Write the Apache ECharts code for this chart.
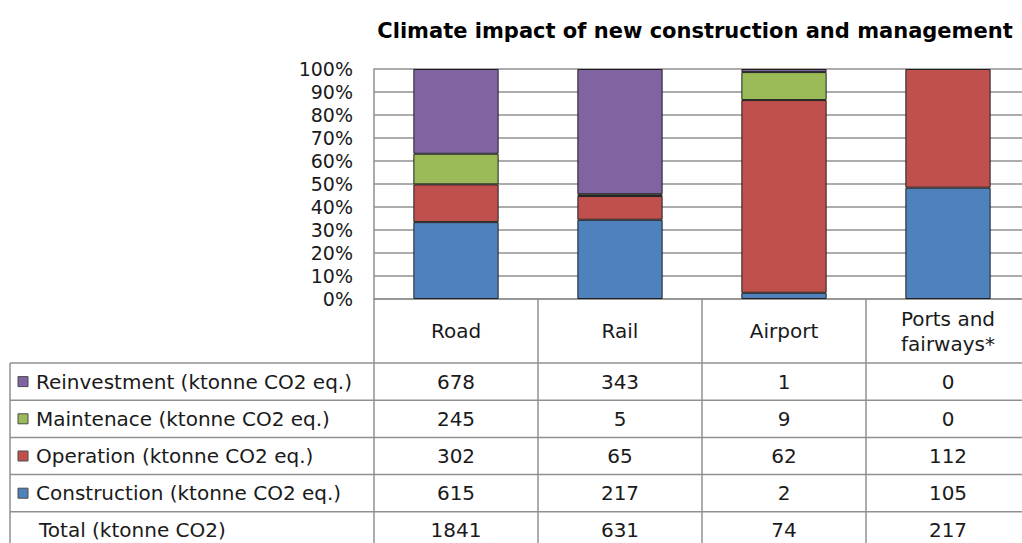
<!DOCTYPE html>
<html>
<head>
<meta charset="utf-8">
<title>Climate impact of new construction and management</title>
<script src="https://cdn.jsdelivr.net/npm/echarts@6/dist/echarts.min.js"></script>
<style>
  html, body { margin: 0; padding: 0; background: #ffffff; }
  #chart { width: 1022px; height: 543px; }
</style>
</head>
<body>
<div id="chart"></div>
<script>
// Infrastructure types (columns)
const categories = ['Road', 'Rail', 'Airport', 'Ports and\nfairways*'];

// Emissions per activity, ktonne CO2 eq.
const reinvestment = [678, 343, 1, 0];
const maintenance  = [245, 5, 9, 0];
const operation    = [302, 65, 62, 112];
const construction = [615, 217, 2, 105];
const totals       = [1841, 631, 74, 217];

// Row labels of the data table
const rowLabels = [
  'Reinvestment (ktonne CO2 eq.)',
  'Maintenace (ktonne CO2 eq.)',
  'Operation (ktonne CO2 eq.)',
  'Construction (ktonne CO2 eq.)'
];
const totalLabel = 'Total (ktonne CO2)';

// Y axis ticks
const yTicks = [0, 10, 20, 30, 40, 50, 60, 70, 80, 90, 100];

const COLORS = {
  reinvestment: '#8064A2',
  maintenance: '#9BBB59',
  operation: '#C0504D',
  construction: '#4F81BD'
};

const FONT = 'DejaVu Sans';
const TEXT = '#1a1a1a';
const LINE = '#909090';
const FS = 20;

// Share of each activity within a column, in percent
const colSums = categories.map((_, i) =>
  reinvestment[i] + maintenance[i] + operation[i] + construction[i]);
const share = arr => arr.map((v, i) => v === 0 ? '-' : v / colSums[i] * 100);

// plot area; the last column runs past the right edge of the page
const GRID = { left: 374, top: 69, width: 656, height: 230, outerBoundsMode: 'none', containLabel: false };

const chart = echarts.init(document.getElementById('chart'), null, { renderer: 'svg' });

const barStyle = color => ({
  color: color,
  borderColor: '#202020',
  borderWidth: 1
});

const mkSeries = (name, arr, color) => ({
  name: name,
  type: 'bar',
  stack: 'total',
  barWidth: '52%',
  data: share(arr),
  itemStyle: barStyle(color),
  emphasis: { disabled: true }
});

chart.setOption({
  animation: false,
  title: {
    text: 'Climate impact of new construction and management',
    left: 690,
    top: 15,
    textAlign: 'center',
    textStyle: { fontFamily: FONT, fontWeight: 'bold', fontSize: 21, color: '#000' }
  },
  grid: GRID,
  xAxis: {
    type: 'category',
    data: categories,
    axisLine: { show: true, lineStyle: { color: LINE, width: 1.5 } },
    axisTick: { show: false },
    axisLabel: {
      margin: 32,
      verticalAlign: 'middle',
      fontFamily: FONT,
      fontSize: FS,
      lineHeight: 25,
      color: TEXT,
      interval: 0
    },
    splitLine: { show: false }
  },
  yAxis: {
    type: 'value',
    min: yTicks[0],
    max: yTicks[yTicks.length - 1],
    interval: yTicks[1] - yTicks[0],
    axisLine: { show: true, lineStyle: { color: LINE, width: 1.5 } },
    axisTick: { show: false },
    axisLabel: {
      formatter: '{value}%',
      margin: 21,
      fontFamily: FONT,
      fontSize: 19,
      color: TEXT
    },
    splitLine: { show: true, lineStyle: { color: LINE, width: 1.5 } }
  },
  series: [
    mkSeries('Construction', construction, COLORS.construction),
    mkSeries('Operation', operation, COLORS.operation),
    mkSeries('Maintenace', maintenance, COLORS.maintenance),
    mkSeries('Reinvestment', reinvestment, COLORS.reinvestment)
  ]
});

// Data table below the plot, aligned to the category bands
function buildTable() {
  const centers = categories.map((_, i) => chart.convertToPixel({ xAxisIndex: 0 }, i));
  const band = centers[1] - centers[0];
  const edges = centers.map(c => c - band / 2);
  edges.push(centers[centers.length - 1] + band / 2);

  const axisY = GRID.top + GRID.height;
  const tableLeft = 10;
  const rowTop = 363;
  const rowH = 37.2;
  const rows = [reinvestment, maintenance, operation, construction, totals];
  const swatchColors = [COLORS.reinvestment, COLORS.maintenance, COLORS.operation, COLORS.construction];
  const bottom = 560;
  const els = [];

  const line = (x1, y1, x2, y2) => els.push({
    type: 'line',
    shape: { x1, y1, x2, y2 },
    style: { stroke: LINE, lineWidth: 1.5 },
    silent: true
  });

  // column separators
  edges.forEach(x => line(x, axisY, x, bottom));
  line(tableLeft, rowTop, tableLeft, bottom);
  // row separators
  for (let r = 0; r < rows.length; r++) {
    line(tableLeft, rowTop + r * rowH, 1040, rowTop + r * rowH);
  }

  rows.forEach((arr, r) => {
    const cy = rowTop + r * rowH + rowH / 2;
    if (r < rowLabels.length) {
      els.push({
        type: 'rect',
        shape: { x: 18, y: cy - 5, width: 10, height: 10 },
        style: { fill: swatchColors[r], stroke: '#4a4a4a', lineWidth: 1 },
        silent: true
      });
    }
    els.push({
      type: 'text',
      x: r < rowLabels.length ? 36 : 39,
      y: cy,
      style: {
        text: r < rowLabels.length ? rowLabels[r] : totalLabel,
        fontFamily: FONT, fontSize: FS, fill: TEXT,
        verticalAlign: 'middle', align: 'left'
      },
      silent: true
    });
    arr.forEach((v, i) => {
      els.push({
        type: 'text',
        x: centers[i],
        y: cy,
        style: {
          text: String(v),
          fontFamily: FONT, fontSize: FS, fill: TEXT,
          verticalAlign: 'middle', align: 'center'
        },
        silent: true
      });
    });
  });

  chart.setOption({ graphic: { elements: els } });
}

buildTable();
</script>
</body>
</html>
